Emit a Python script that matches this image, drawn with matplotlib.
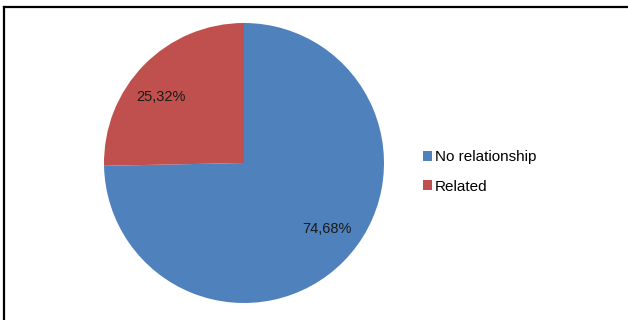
import numpy as np
import matplotlib.pyplot as plt
from matplotlib.lines import Line2D

# share of answers per group
labels = ["No relationship", "Related"]
shares = [74.68, 25.32]
colors = ["#4F81BD", "#C0504D"]

plt.rcParams['font.family'] = ['Liberation Sans', 'DejaVu Sans']

fig = plt.figure(figsize=(6.28, 3.2), dpi=100)
W, H = 628, 320

# pie centred at (244, 163) px, radius 140 px
cx, cy, r = 244, 163, 140
ax = fig.add_axes([(cx - r) / W, (H - cy - r) / H, 2 * r / W, 2 * r / H])


def fmt_pct(p):
    return f"{p:.2f}".replace(".", ",") + "%"


wedges, texts, autotexts = ax.pie(
    shares, colors=colors, startangle=90, counterclock=False,
    autopct=fmt_pct, pctdistance=0.75, radius=1,
    wedgeprops=dict(linewidth=0),
    textprops=dict(fontsize=10.5, color="#1a1a1a"))

# nudge the percentage labels a little counter-clockwise
for w, t in zip(wedges, autotexts):
    ang = np.deg2rad((w.theta1 + w.theta2) / 2 + 6)
    t.set_position((0.755 * np.cos(ang), 0.755 * np.sin(ang)))

ax.set_xlim(-1, 1)
ax.set_ylim(-1, 1)
ax.set_aspect("equal")
ax.axis("off")

fig.legend(wedges, labels, loc="center left",
           bbox_to_anchor=(415 / W, 1 - 172 / H),
           frameon=False, fontsize=11,
           handlelength=0.6, handleheight=0.6,
           handletextpad=0.2, labelspacing=1.0, borderpad=0)

# frame lines on the top and left edges
fig.add_artist(Line2D([4 / W, 1], [1 - 7 / H, 1 - 7 / H], color="black", linewidth=1.6,
                      transform=fig.transFigure))
fig.add_artist(Line2D([4 / W, 4 / W], [0, 1 - 7 / H], color="black", linewidth=1.6,
                      transform=fig.transFigure))

fig.savefig("out.png", dpi=100)
